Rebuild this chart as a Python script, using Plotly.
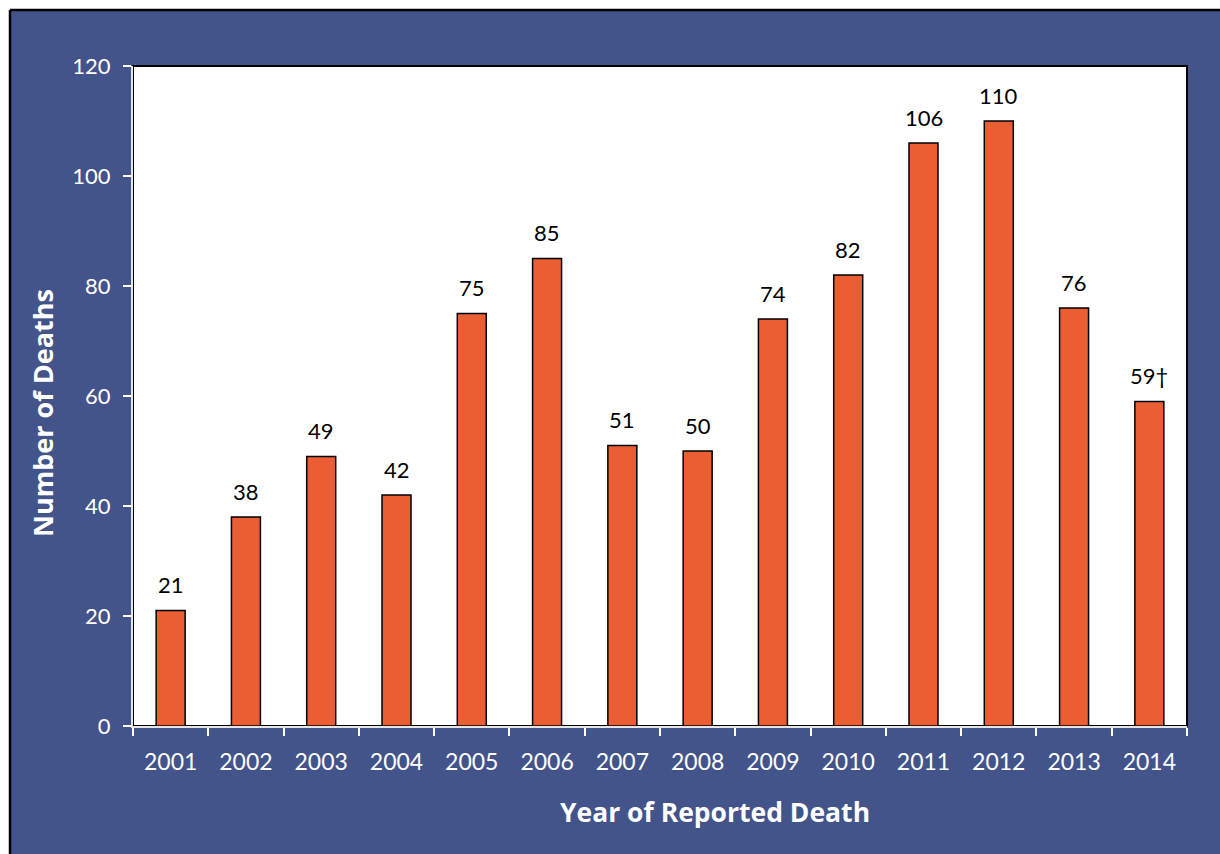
import plotly.graph_objects as go

years = ["2001", "2002", "2003", "2004", "2005", "2006", "2007",
         "2008", "2009", "2010", "2011", "2012", "2013", "2014"]
deaths = [21, 38, 49, 42, 75, 85, 51, 50, 74, 82, 106, 110, 76, 59]
labels = ["21", "38", "49", "42", "75", "85", "51", "50", "74", "82",
          "106", "110", "76", "59†"]
y_ticks = [0, 20, 40, 60, 80, 100, 120]

BLUE = "#43548B"
ORANGE = "#EB5E33"
FONT = "Lato, 'Open Sans', sans-serif"
TFONT = "'Open Sans', Lato, sans-serif"

W, H = 1220, 854
L, R, T, B = 133, 33, 66, 128
pw, ph = W - L - R, H - T - B

def px(x):
    return (x - L) / pw

def py(y):
    return (H - B - y) / ph

fig = go.Figure()
fig.add_trace(go.Bar(
    x=years, y=deaths,
    marker=dict(color=ORANGE, line=dict(color="black", width=1.5)),
    hoverinfo="x+y",
))

annotations = []
for i, (v, t) in enumerate(zip(deaths, labels)):
    annotations.append(dict(x=i, y=v, text=t, showarrow=False, xref="x", yref="y",
                            yshift=26, font=dict(family=FONT, size=22, color="black")))
annotations.append(dict(x=px(42), y=py(413), xref="paper", yref="paper",
                        xanchor="center", yanchor="middle",
                        text="<b>Number of Deaths</b>", textangle=-90, showarrow=False,
                        font=dict(family=TFONT, size=27, color="white")))
annotations.append(dict(x=px(715), y=py(812), xref="paper", yref="paper",
                        xanchor="center", yanchor="middle",
                        text="<b>Year of Reported Death</b>", showarrow=False,
                        font=dict(family=TFONT, size=26.5, color="white")))

shapes = [
    dict(type="rect", xref="paper", yref="paper", x0=px(-5), x1=px(1230), y0=py(10), y1=py(-5),
         fillcolor="white", line=dict(width=0), layer="above"),
    dict(type="rect", xref="paper", yref="paper", x0=px(-5), x1=px(10), y0=py(860), y1=py(-5),
         fillcolor="white", line=dict(width=0), layer="above"),
    dict(type="line", xref="paper", yref="paper", x0=px(10), x1=px(1230), y0=py(10), y1=py(10),
         line=dict(color="black", width=2.5), layer="above"),
    dict(type="line", xref="paper", yref="paper", x0=px(10), x1=px(10), y0=py(10), y1=py(860),
         line=dict(color="black", width=2.5), layer="above"),
    dict(type="rect", xref="paper", yref="paper", x0=0, x1=1, y0=0, y1=1,
         line=dict(color="black", width=2), fillcolor="rgba(0,0,0,0)", layer="below"),
]

fig.update_layout(
    width=W, height=H,
    margin=dict(l=L, r=R, t=T, b=B, pad=0),
    paper_bgcolor=BLUE, plot_bgcolor="white",
    showlegend=False, bargap=0.615,
    font=dict(family=FONT, color="white"),
    annotations=annotations, shapes=shapes,
    xaxis=dict(type="category", categoryorder="array", categoryarray=years,
               range=[-0.5, len(years) - 0.5],
               showgrid=False, showline=True, linecolor="#E6E6E6", linewidth=2,
               ticks="outside", ticklen=8, tickcolor="white", tickwidth=2,
               tickson="boundaries", tickangle=0, ticklabelstandoff=14,
               tickfont=dict(family=FONT, size=23, color="white"),
               zeroline=False),
    yaxis=dict(range=[0, 120], tickvals=y_ticks, showgrid=False, showline=True,
               linecolor="#E6E6E6", linewidth=2, ticks="outside", ticklen=8,
               tickcolor="white", tickwidth=2, zeroline=False, ticklabelstandoff=8,
               tickfont=dict(family=FONT, size=22, color="white")),
)

fig.write_html("out.html")
